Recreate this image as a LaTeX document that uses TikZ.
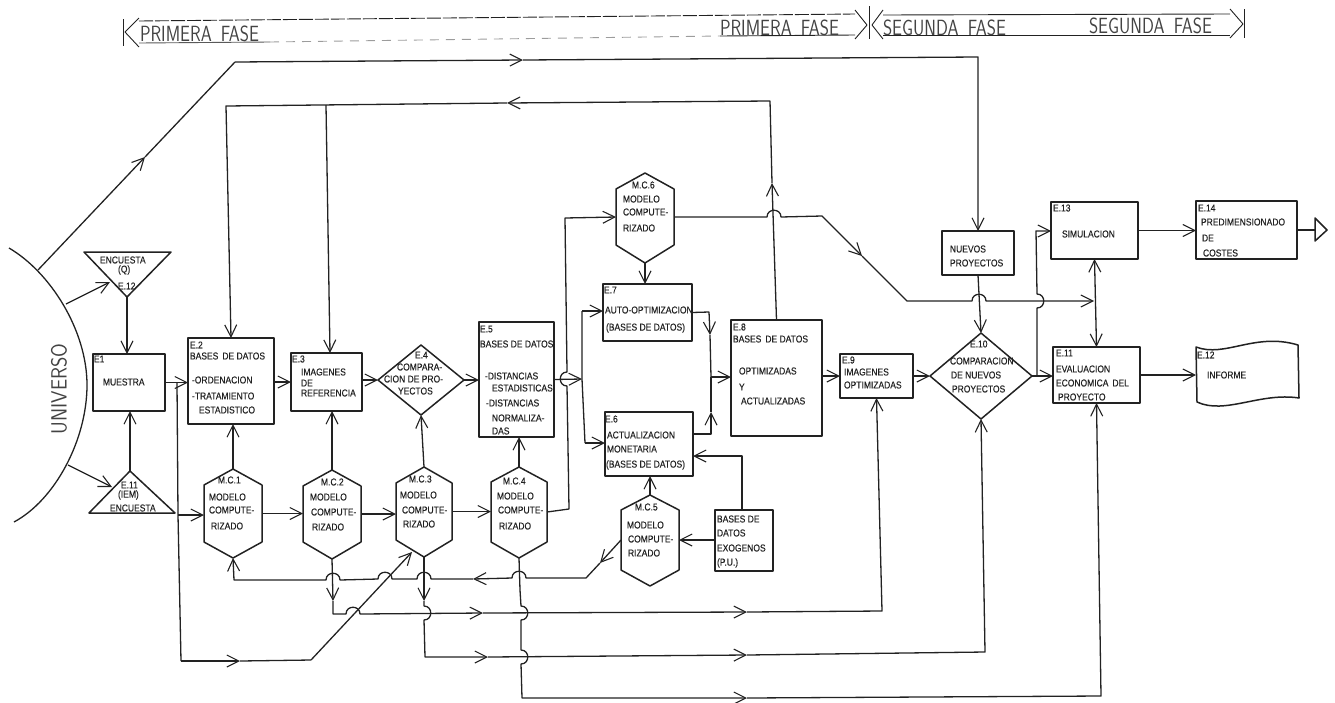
\documentclass[tikz,border=0pt]{standalone}
\usepackage{fontspec}
\usetikzlibrary{arrows.meta,calc}
\newfontfamily\lf[FakeStretch=0.85,FakeBold=0.25]{Liberation Sans}
\newfontfamily\thinf[FakeStretch=0.8]{Latin Modern Sans}
\newfontfamily\thing[FakeStretch=0.9]{Latin Modern Sans}
\definecolor{ink}{HTML}{222222}
\tikzset{
  every path/.style={draw=ink,line width=1.3pt,line join=round},
  arr/.style={-{Straight Barb[length=12pt,width=12pt,line width=1.1pt]}},
  arrb/.style={{Straight Barb[length=12pt,width=12pt,line width=1.1pt]}-{Straight Barb[length=12pt,width=12pt,line width=1.1pt]}},
  boxn/.style={draw=ink,line width=1.5pt,rectangle,inner sep=0pt,outer sep=0pt},
  lbl/.style={inner sep=0pt,outer sep=0pt,anchor=west,text=ink,font=\lf\fontsize{10}{10}\selectfont},
  big/.style={inner sep=0pt,outer sep=0pt,anchor=west,text=ink!85,font=\thinf\fontsize{22}{22}\selectfont},
  bar/.style={line width=.9pt},
}
\newcounter{tlc}
\newcommand\tl[3]{\stepcounter{tlc}\node[lbl] (t\arabic{tlc}) at (#1,#2) {#3};}
\newcommand\tb[3]{\stepcounter{tlc}\node[big] (t\arabic{tlc}) at (#1,#2) {#3};}
\newcommand\bx[5]{\node[boxn,minimum width={(#4-#2)*1pt},minimum height={(#5-#3)*1pt}] (#1) at ({(#2+#4)/2},{(#3+#5)/2}) {};}
% name xl xr top shoulder-top shoulder-bottom bottom
\newcommand\hexa[7]{%
  \coordinate (#1-t) at ({(#2+#3)/2},#4);
  \coordinate (#1-b) at ({(#2+#3)/2},#7);
  \coordinate (#1-w) at (#2,{(#5+#6)/2});
  \coordinate (#1-e) at (#3,{(#5+#6)/2});
  \draw[line width=1.5pt] (#1-t) -- (#3,#5) -- (#1-e) -- (#3,#6) -- (#1-b) -- (#2,#6) -- (#1-w) -- (#2,#5) -- cycle;}
% name cx cy hw hh
\newcommand\dia[5]{%
  \coordinate (#1-t) at (#2,{#3-#5});
  \coordinate (#1-b) at (#2,{#3+#5});
  \coordinate (#1-w) at ({#2-#4},#3);
  \coordinate (#1-e) at ({#2+#4},#3);
  \draw[line width=1.5pt] (#1-t) -- (#1-e) -- (#1-b) -- (#1-w) -- cycle;}
\newcommand\hj[2]{-- ({#1-7},#2) .. controls ({#1-7},{#2-9}) and ({#1+7},{#2-9}) .. ({#1+7},#2) }
\newcommand\hjl[2]{-- ({#1+7},#2) .. controls ({#1+7},{#2-9}) and ({#1-7},{#2-9}) .. ({#1-7},#2) }
\newcommand\vjr[2]{-- (#1,{#2-7}) .. controls ({#1+9},{#2-7}) and ({#1+9},{#2+7}) .. (#1,{#2+7}) }
\newcommand\vjru[2]{-- (#1,{#2+7}) .. controls ({#1+9},{#2+7}) and ({#1+9},{#2-7}) .. (#1,{#2-7}) }
\newcommand\vjlu[2]{-- (#1,{#2+7}) .. controls ({#1-9},{#2+7}) and ({#1-9},{#2-7}) .. (#1,{#2-7}) }
\begin{document}
\begin{tikzpicture}[x=1pt,y=-1pt]
\useasboundingbox[draw=none] (0,0) rectangle (1335,702);

% ---- phase bars
\draw[bar] (123,19) -- (123,46);
\draw[bar] (139,18) -- (125,32) -- (139,47);
\draw[bar,dash pattern=on 14pt off 2pt] (139,21) -- (855,14);
\draw[bar,draw=ink!75] (139,43) -- (270,42);
\draw[bar,draw=ink!45,dash pattern=on 9pt off 7pt] (270,42) -- (720,36);
\draw[bar] (720,36) -- (855,35);
\draw[bar] (855,10) -- (867,25) -- (855,39);
\draw[bar] (869,6) -- (869,39);
\draw[bar] (883,10) -- (872,25) -- (883,39);
\draw[bar] (883,15) -- (1230,14);
\draw[bar] (883,35) -- (1230,35);
\draw[bar] (1230,9) -- (1243,24) -- (1230,38);
\draw[bar] (1244,9) -- (1244,38);
\tb{140}{34}{PRIMERA\, FASE}
\tb{720}{28}{PRIMERA\, FASE}
\tb{883}{28}{SEGUNDA\, FASE}
\tb{1089}{26}{SEGUNDA\, FASE}

% ---- universe
\draw (9,248) .. controls (50,272) and (87,330) .. (87,385) .. controls (87,440) and (55,500) .. (14,522);
\node[inner sep=0pt,text=ink!85,rotate=90,font=\thing\fontsize{22}{22}\selectfont] (univ) at (59,389) {UNIVERSO};

% ---- boxes
\bx{e1}{93}{354}{165}{411}
\bx{e2}{188}{338}{274}{424}
\bx{e3}{291}{353}{362}{411}
\bx{e5}{479}{322}{554}{437}
\bx{e7}{603}{284}{692}{341}
\bx{e6}{605}{412}{693}{476}
\bx{e8}{731}{320}{822}{436}
\bx{e9}{840}{354}{913}{398}
\bx{nuevos}{942}{231}{1014}{275}
\bx{e13}{1051}{202}{1138}{259}
\bx{e14}{1196}{201}{1297}{259}
\bx{e11}{1053}{347}{1140}{403}
\bx{pu}{715}{510}{773}{571}
\dia{e4}{421}{380}{43}{35}
\dia{e10}{981}{376}{51}{43}
\hexa{mc1}{204}{262}{469}{485}{542}{558}
\hexa{mc2}{303}{361}{470}{486}{542}{559}
\hexa{mc3}{396}{452}{467}{483}{540}{557}
\hexa{mc4}{491}{547}{467}{482}{542}{558}
\hexa{mc5}{621}{679}{495}{510}{570}{586}
\hexa{mc6}{616}{674}{173}{189}{245}{263}

% triangles
\coordinate (q-tip) at (127,297);
\draw[line width=1.5pt] (84,252) -- (171,252) -- (q-tip) -- cycle;
\coordinate (iem-tip) at (130,471);
\draw[line width=1.5pt] (89,513) -- (175,513) -- (iem-tip) -- cycle;
% document (E.12)
\coordinate (e12w) at (1196,375);
\draw[line width=1.5pt] (1196,347) .. controls (1225,358) and (1255,332) .. (1298,345) -- (1299,398) .. controls (1260,392) and (1225,415) .. (1197,402) -- cycle;
% end triangle
\coordinate (endt) at (1315,230);
\draw[line width=1.5pt] (1315,218) -- (1327,230) -- (1315,241) -- cycle;

% ---- connectors
\coordinate (uA) at (38,270); \coordinate (a1) at (145,157);
\coordinate (a2) at (235,62); \coordinate (a3) at (523,60); \coordinate (a4) at (975,57);
\draw[arr] (uA) -- (a1);
\draw (a1) -- (a2);
\draw[arr] (a2) -- (a3);
\draw[arr] (a3) -- (nuevos.north |- a4) -- (nuevos.north);
\coordinate (uB) at (66,304); \coordinate (uB2) at (110,282);
\draw[arr] (uB) -- (uB2);
\coordinate (uC) at (68,465); \coordinate (uC2) at (112,487);
\draw[arr] (uC) -- (uC2);
\draw[arr] (q-tip) -- (q-tip |- e1.north);
\draw[arr] (iem-tip) -- (iem-tip |- e1.south);

% feedback from E8
\coordinate (bup) at (772,183); \coordinate (b0) at (770,101); \coordinate (b1) at (507,103);
\coordinate (b2) at (326,105); \coordinate (b3) at (226,106); \coordinate (e3in) at (330,353);
\draw[arr] (e8.north) -- (bup);
\draw[arr] (bup) -- (b0) -- (b1);
\draw[arr] (b1) -- (b3) -- (e2.north);
\draw[arr] (b2) -- (e3in);

% main row
\draw[arr] (e1.east) -- (e1.east -| e2.west);
\draw[arr] (e2.east |- e3.east) -- (e3.west);
\draw[arr] (e3.east |- e4-w) -- (e4-w);
\draw[arr] (e4-e) -- (e4-e -| e5.west);
\coordinate (sp) at (582,379); \coordinate (sp1) at (582,311); \coordinate (sp2) at (585,443);
\draw[arr] (e5.east) -- (sp);
\draw (sp1) -- (sp) -- (sp2);
\draw[arr] (sp1) -- (sp1 -| e7.west);
\draw[arr] (sp2) -- (sp2 -| e6.west);

% E1 branch down
\coordinate (g1) at (177,382); \coordinate (g2) at (178,515); \coordinate (g3) at (181,661);
\coordinate (g4) at (240,661); \coordinate (g5) at (311,660); \coordinate (g6) at (412,552);
\draw (g1) -- (g2) -- (g3);
\draw[arr] (g3) -- (g4);
\draw (g4) -- (g5);
\draw[arr] (g5) -- (g6);
\draw[arr] (g2) -- (g2 -| mc1-w);

% MC to E
\draw[arr] (mc1-t) -- (mc1-t |- e2.south);
\draw[arr] (mc2-t) -- (mc2-t |- e3.south);
\draw[arr] (mc3-t) -- (e4-b);
\draw[arr] (mc4-t) -- (mc4-t |- e5.south);
\draw[arr] (mc5-t) -- (mc5-t |- e6.south);
\draw[arr] (mc1-e) -- (mc1-e -| mc2-w);
\draw[arr] (mc2-e) -- (mc2-e -| mc3-w);
\draw[arr] (mc3-e) -- (mc3-e -| mc4-w);

% MC4 to MC6
\draw[arr] (mc4-e) -- (569,509) \vjlu{567}{379} -- (565,218) -- (mc6-w);
\draw[arr] (mc6-b) -- (mc6-b |- e7.north);

% MC6 to right
\coordinate (d2) at (862,256);
\draw[arr] (mc6-e) \hj{774}{217} -- (822,216) -- (d2);
\coordinate (d3) at (1094,301);
\draw[arr] (d2) -- (907,301) \hj{979}{301} -- (d3);

% E7 E6 to E8
\coordinate (k1) at (709,312); \coordinate (k2) at (710,335); \coordinate (k3) at (711,377);
\coordinate (k5) at (711,412); \coordinate (k6) at (693,434);
\draw[arr] (e7.east) -- (k1) -- (k2);
\draw (k2) -- (k3);
\draw[arr] (k6) -- (711,434) -- (k5);
\draw (k5) -- (k3);
\draw[arr] (k3) -- (k3 -| e8.west);
\draw[arr] (e8.east |- e9.west) -- (e9.west);
\draw[arr] (e9.east |- e10-w) -- (e10-w);
\draw[arr] (nuevos.south) -- (e10-t);
\coordinate (n1) at (1037,375); \coordinate (n2) at (1036,231);
\draw[arr] (e10-e) -- (e11.west |- e10-e);
\draw[arr] (n1) \vjru{1037}{301} -- (n2) -- (n2 -| e13.west);
\draw[arrb] (e13.south) -- (e11.north);
\draw[arr] (e13.east) -- (e14.west |- e13.east);
\draw (e14.east) -- (endt);
\draw[arr] (e11.east) -- (e12w);

% exogenous
\coordinate (x1) at (742,456);
\draw[arr] (pu.west |- mc5-e) -- (mc5-e);
\draw[arr] (x1 |- pu.north) -- (x1) -- (x1 -| e6.east);

% MC5 back to MC1
\coordinate (c1) at (600,563); \coordinate (c2) at (473,579);
\draw[arr] (mc5-w) -- (c1);
\draw[arr] (c1) -- (586,578) \hjl{519}{578} -- (c2);
\draw[arr] (c2) \hjl{424}{579} \hjl{385}{579} \hjl{333}{580} -- (234,580) -- (mc1-b);

% MC2 to E9
\coordinate (h1) at (333,601); \coordinate (h2) at (483,613); \coordinate (h3) at (747,612);
\draw[arr] (mc2-b) -- (h1);
\draw[arr] (h1) -- (333,614) \hj{353}{614} -- (h2);
\draw[arr] (h2) -- (h3);
\draw[arr] (h3) -- (882,611) -- (e9.south);

% MC3 to E10
\coordinate (i1) at (424,601); \coordinate (i2) at (488,657); \coordinate (i3) at (747,655);
\draw[arr] (mc3-b) -- (i1);
\draw[arr] (i1) \vjr{424}{613} -- (425,657) -- (i2);
\draw[arr] (i2) -- (i3);
\draw[arr] (i3) -- (985,652) -- (e10-b);

% MC4 to E11
\coordinate (j1) at (747,698);
\draw[arr] (mc4-b) -- (520,590) \vjr{521}{613} \vjr{521}{657} -- (522,698) -- (j1);
\draw[arr] (j1) -- (1101,696) -- (e11.south);

% ---- texts
\tl{94}{359}{E1} \tl{103}{382}{MUESTRA}
\tl{190}{345}{E.2} \tl{190}{356}{BASES\, DE DATOS} \tl{192}{380}{-ORDENACION} \tl{192}{396}{-TRATAMIENTO} \tl{199}{410}{ESTADISTICO}
\tl{292}{359}{E.3} \tl{301}{372}{IMAGENES} \tl{301}{383}{DE} \tl{301}{393}{REFERENCIA}
\tl{415}{355}{E.4} \tl{397}{367}{COMPARA-} \tl{384}{379}{CION DE PRO-} \tl{398}{391}{YECTOS}
\tl{218}{480}{M.C.1} \tl{209}{497}{MODELO} \tl{209}{510}{COMPUTE-} \tl{211}{526}{RIZADO}
\tl{321}{482}{M.C.2} \tl{310}{497}{MODELO} \tl{311}{512}{COMPUTE-} \tl{312}{527}{RIZADO}
\tl{409}{479}{M.C.3} \tl{400}{495}{MODELO} \tl{402}{510}{COMPUTE-} \tl{403}{524}{RIZADO}
\tl{503}{481}{M.C.4} \tl{497}{496}{MODELO} \tl{498}{510}{COMPUTE-} \tl{499}{526}{RIZADO}
\tl{635}{507}{M.C.5} \tl{627}{525}{MODELO} \tl{628}{539}{COMPUTE-} \tl{628}{553}{RIZADO}
\tl{632}{185}{M.C.6} \tl{623}{199}{MODELO} \tl{623}{212}{COMPUTE-} \tl{623}{228}{RIZADO}
\tl{480}{329}{E.5} \tl{480}{344}{BASES DE DATOS} \tl{485}{376}{-DISTANCIAS} \tl{492}{388}{ESTADISTICAS} \tl{486}{403}{-DISTANCIAS} \tl{492}{418}{NORMALIZA-} \tl{492}{431}{DAS}
\tl{604}{290}{E.7} \tl{605}{310}{AUTO-OPTIMIZACION} \tl{606}{328}{(BASES DE DATOS)}
\tl{605}{419}{E.6} \tl{607}{435}{ACTUALIZACION} \tl{607}{449}{MONETARIA} \tl{606}{465}{(BASES DE DATOS)}
\tl{733}{327}{E.8} \tl{733}{339}{BASES\, DE DATOS} \tl{739}{371}{OPTIMIZADAS} \tl{739}{387}{Y} \tl{741}{401}{ACTUALIZADAS}
\tl{842}{360}{E.9} \tl{844}{372}{IMAGENES} \tl{844}{385}{OPTIMIZADAS}
\tl{970}{344}{E.10} \tl{950}{361}{COMPARACION} \tl{951}{375}{DE NUEVOS} \tl{952}{389}{PROYECTOS}
\tl{950}{249}{NUEVOS} \tl{950}{263}{PROYECTOS}
\tl{1053}{208}{E.13} \tl{1062}{234}{SIMULACION}
\tl{1198}{208}{E.14} \tl{1201}{222}{PREDIMENSIONADO} \tl{1202}{238}{DE} \tl{1203}{253}{COSTES}
\tl{1056}{353}{E.11} \tl{1056}{369}{EVALUACION} \tl{1056}{383}{ECONOMICA\, DEL} \tl{1058}{397}{PROYECTO}
\tl{1197}{355}{E.12} \tl{1207}{375}{INFORME}
\tl{717}{519}{BASES DE} \tl{717}{533}{DATOS} \tl{717}{548}{EXOGENOS} \tl{717}{563}{(P.U.)}
\tl{100}{260}{ENCUESTA} \tl{118}{270}{(Q)} \tl{118}{286}{E.12}
\tl{121}{485}{E.11} \tl{118}{495}{(IEM)} \tl{110}{508}{ENCUESTA}
\end{tikzpicture}
\end{document}
